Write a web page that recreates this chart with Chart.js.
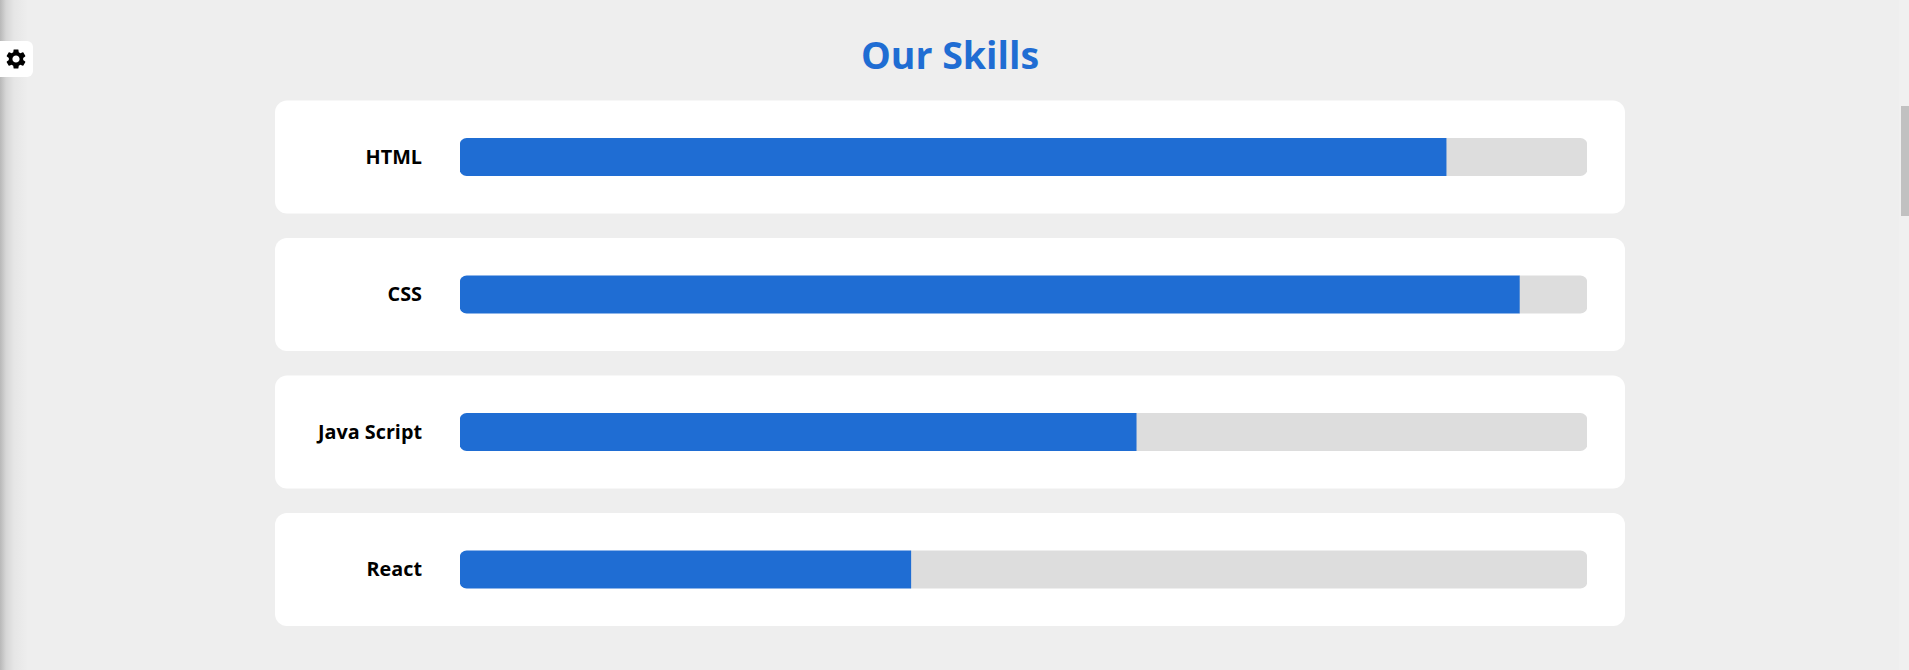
<!DOCTYPE html>
<html>
<head>
<meta charset="utf-8">
<title>Our Skills</title>
<script src="https://cdn.jsdelivr.net/npm/chart.js@4"></script>
<style>
  html, body { margin: 0; height: 100%; overflow: hidden; background: #eeeeee; }
  #page { position: relative; width: 1909px; height: 670px; overflow: hidden; font-family: "Open Sans", sans-serif; }
  h2 { position: absolute; left: 0; width: 1900px; top: 31px; margin: 0; text-align: center; color: #1f6dd3; font-size: 37.5px; line-height: 48px; font-weight: 700; }
  #skills { position: absolute; left: 275px; top: 88px; }
  /* side panel shadow, settings button and page scrollbar */
  #shade { position: absolute; left: 0; top: 0; width: 30px; height: 670px; background: linear-gradient(to right, #b8b8b8 0, #d6d6d6 6px, #e6e6e6 14px, #eeeeee 28px); }
  #gear { position: absolute; left: 0; top: 41px; width: 33px; height: 36px; background: #fff; border-radius: 0 6px 6px 0; display: flex; align-items: center; justify-content: center; }
  #gear svg { margin-right: 2px; }
  #track { position: absolute; left: 1899px; top: 0; width: 10px; height: 670px; background: #f0f0f0; }
  #thumb { position: absolute; left: 1901px; top: 106px; width: 8px; height: 110px; background: #c1c1c1; }
</style>
</head>
<body>
<div id="page">
  <div id="shade"></div>
  <div id="gear"><svg width="24" height="24" viewBox="0 0 24 24"><path d="M19.14 12.94c.04-.3.06-.61.06-.94 0-.32-.02-.64-.07-.94l2.03-1.58c.18-.14.23-.41.12-.61l-1.92-3.32c-.12-.22-.37-.29-.59-.22l-2.39.96c-.5-.38-1.03-.7-1.62-.94l-.36-2.54c-.04-.24-.24-.41-.48-.41h-3.84c-.24 0-.43.17-.47.41l-.36 2.54c-.59.24-1.13.57-1.62.94l-2.39-.96c-.22-.08-.47 0-.59.22L2.74 8.87c-.12.21-.08.47.12.61l2.03 1.58c-.05.3-.09.63-.09.94s.02.64.07.94l-2.03 1.58c-.18.14-.23.41-.12.61l1.92 3.32c.12.22.37.29.59.22l2.39-.96c.5.38 1.03.7 1.62.94l.36 2.54c.05.24.24.41.48.41h3.84c.24 0 .44-.17.47-.41l.36-2.54c.59-.24 1.13-.56 1.62-.94l2.39.96c.22.08.47 0 .59-.22l1.92-3.32c.12-.22.07-.47-.12-.61l-2.01-1.58zM12 15.6c-1.98 0-3.6-1.62-3.6-3.6s1.62-3.6 3.6-3.6 3.6 1.62 3.6 3.6-1.62 3.6-3.6 3.6z"/></svg></div>
  <h2>Our Skills</h2>
  <canvas id="skills" width="1350" height="552"></canvas>
  <div id="track"></div>
  <div id="thumb"></div>
</div>
<script>
const skills = ["HTML", "CSS", "Java Script", "React"];
const progress = [87.5, 94, 60, 40];
const rest = [12.5, 6, 40, 60];

// white rounded card behind every row
const cards = {
  id: "cards",
  beforeDraw(chart) {
    const c = chart.ctx, y = chart.scales.y;
    c.save();
    c.fillStyle = "#eeeeee";
    c.fillRect(0, 0, chart.width, chart.height);
    c.fillStyle = "#ffffff";
    skills.forEach((s, i) => {
      c.beginPath();
      c.roundRect(0, y.getPixelForValue(i) - 56.5, chart.width, 113, 12);
      c.fill();
    });
    c.restore();
  }
};

const ctx = document.getElementById("skills").getContext("2d", { alpha: false });

const myChart = new Chart(ctx, {
  type: "bar",
  data: {
    labels: skills,
    datasets: [
      {
        data: progress,
        backgroundColor: "#1f6dd3",
        borderSkipped: false,
        borderRadius: { topLeft: 7, bottomLeft: 7, topRight: 0, bottomRight: 0 }
      },
      {
        data: rest,
        backgroundColor: "#dddddd",
        borderSkipped: false,
        borderRadius: { topLeft: 0, bottomLeft: 0, topRight: 7, bottomRight: 7 }
      }
    ]
  },
  options: {
    indexAxis: "y",
    responsive: false,
    animation: false,
    devicePixelRatio: 1,
    barThickness: 37.5,
    layout: { padding: { top: 0.25, bottom: 1.75, right: 38, left: 0 } },
    plugins: { legend: { display: false }, tooltip: { enabled: false } },
    scales: {
      x: { stacked: true, min: 0, max: 100, display: false },
      y: {
        stacked: true,
        border: { display: false },
        // tickLength pushes the labels away from the bars, no vertical margin added
        grid: { display: false, drawTicks: true, tickLength: 38 },
        afterFit(scale) {
          scale.width = 185;
          scale.paddingTop = 0;
          scale.paddingBottom = 0;
        },
        ticks: {
          color: "#000000",
          padding: 0,
          labelOffset: 1,
          font: { family: "'Open Sans'", size: 19.8, weight: "700" }
        }
      }
    }
  },
  plugins: [cards]
});
</script>
</body>
</html>
